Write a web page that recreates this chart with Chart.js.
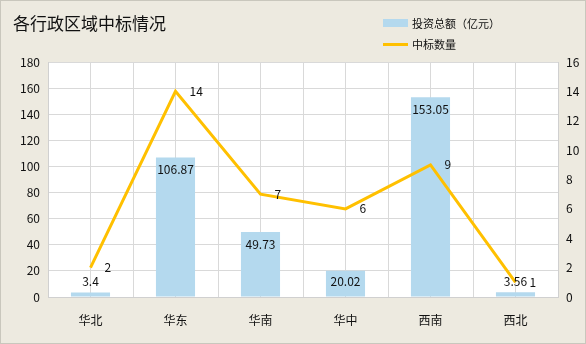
<!DOCTYPE html>
<html lang="zh">
<head>
<meta charset="UTF-8">
<title>各行政区域中标情况</title>
<script src="https://cdn.jsdelivr.net/npm/chart.js"></script>
<style>
  html, body { margin: 0; padding: 0; background: #edeae0; }
  #wrap { position: relative; width: 586px; height: 344px; font-family: "Noto Sans CJK SC", sans-serif; color: #111; }
  #frame { position: absolute; left: 0; top: 0; width: 584px; height: 342px; border: 1px solid #c9c7bd; pointer-events: none; }
  #title { position: absolute; left: 13px; top: 11px; font-size: 17px; line-height: 24px; }
  .leg { position: absolute; left: 383px; font-size: 11px; line-height: 14px; display: flex; align-items: center; }
  .leg i { display: inline-block; width: 25px; margin-right: 4px; }
</style>
</head>
<body>
<div id="wrap">
  <canvas id="chart" width="586" height="344"></canvas>
  <div id="title">各行政区域中标情况</div>
  <div class="leg" style="top:16px"><i style="height:8px;background:#b4d9ee"></i>投资总额（亿元）</div>
  <div class="leg" style="top:37px"><i style="height:3px;background:#ffc000"></i>中标数量</div>
  <div id="frame"></div>
</div>
<script>
// chart data
const regions = ['华北', '华东', '华南', '华中', '西南', '西北'];
const investment = [3.4, 106.87, 49.73, 20.02, 153.05, 3.56];   // 投资总额（亿元）
const bidCount = [2, 14, 7, 6, 9, 1];                          // 中标数量

const font = { family: '"Noto Sans CJK SC", sans-serif', size: 12 };

// white plot area
const plotBg = {
  id: 'plotBg',
  beforeDraw(chart) {
    const a = chart.chartArea;
    chart.ctx.save();
    chart.ctx.fillStyle = '#ffffff';
    chart.ctx.fillRect(a.left, a.top, a.right - a.left, a.bottom - a.top);
    chart.ctx.restore();
  }
};

// draws value labels like the excel data labels
const valueLabels = {
  id: 'valueLabels',
  afterDatasetsDraw(chart) {
    const ctx = chart.ctx;
    ctx.save();
    ctx.font = '12px "Noto Sans CJK SC", sans-serif';
    ctx.fillStyle = '#111';
    ctx.textBaseline = 'middle';

    const bars = chart.getDatasetMeta(0).data;
    ctx.textAlign = 'center';
    bars.forEach((el, i) => {
      const y = Math.min(el.y + 12, el.base - 15);
      ctx.fillText(String(investment[i]), el.x, y);
    });

    const pts = chart.getDatasetMeta(1).data;
    ctx.textAlign = 'left';
    pts.forEach((el, i) => {
      ctx.fillText(String(bidCount[i]), el.x + 14, el.y);
    });
    ctx.restore();
  }
};

new Chart(document.getElementById('chart'), {
  data: {
    labels: regions,
    datasets: [
      {
        type: 'bar',
        label: '投资总额（亿元）',
        data: investment,
        backgroundColor: '#b4d9ee',
        yAxisID: 'y',
        xAxisID: 'x',
        categoryPercentage: 1,
        barPercentage: 0.46,
        order: 2
      },
      {
        type: 'line',
        label: '中标数量',
        data: bidCount,
        borderColor: '#ffc000',
        borderWidth: 3,
        pointRadius: 0,
        tension: 0,
        yAxisID: 'y1',
        xAxisID: 'x',
        order: 1
      }
    ]
  },
  options: {
    responsive: false,
    animation: false,
    layout: { padding: { top: 62, left: 0, right: 0, bottom: 0 } },
    plugins: {
      legend: { display: false },
      title: { display: false },
      tooltip: { enabled: false }
    },
    scales: {
      x: {
        type: 'category',
        position: 'bottom',
        offset: true,
        grid: { display: false },
        border: { color: '#d0d0d0' },
        ticks: { font: font, color: '#111', padding: 8 },
        afterFit(s) { s.height = 47; }
      },
      // hidden axis only for the vertical grid (centers + boundaries)
      xg: {
        type: 'linear',
        position: 'bottom',
        min: 0,
        max: 12,
        grid: { color: '#d9d9d9', drawTicks: false },
        border: { display: false },
        ticks: { display: false, stepSize: 1 },
        afterFit(s) { s.height = 0; }
      },
      y: {
        position: 'left',
        min: 0,
        max: 180,
        ticks: { stepSize: 20, font: font, color: '#111', padding: 8 },
        grid: { color: '#d9d9d9', drawTicks: false },
        border: { color: '#d0d0d0' },
        afterFit(s) { s.width = 48; }
      },
      y1: {
        position: 'right',
        min: 0,
        max: 16,
        ticks: { stepSize: 2, font: font, color: '#111', padding: 8 },
        grid: { drawOnChartArea: false, drawTicks: false },
        border: { color: '#d0d0d0' },
        afterFit(s) { s.width = 28; }
      }
    }
  },
  plugins: [plotBg, valueLabels]
});
</script>
</body>
</html>
